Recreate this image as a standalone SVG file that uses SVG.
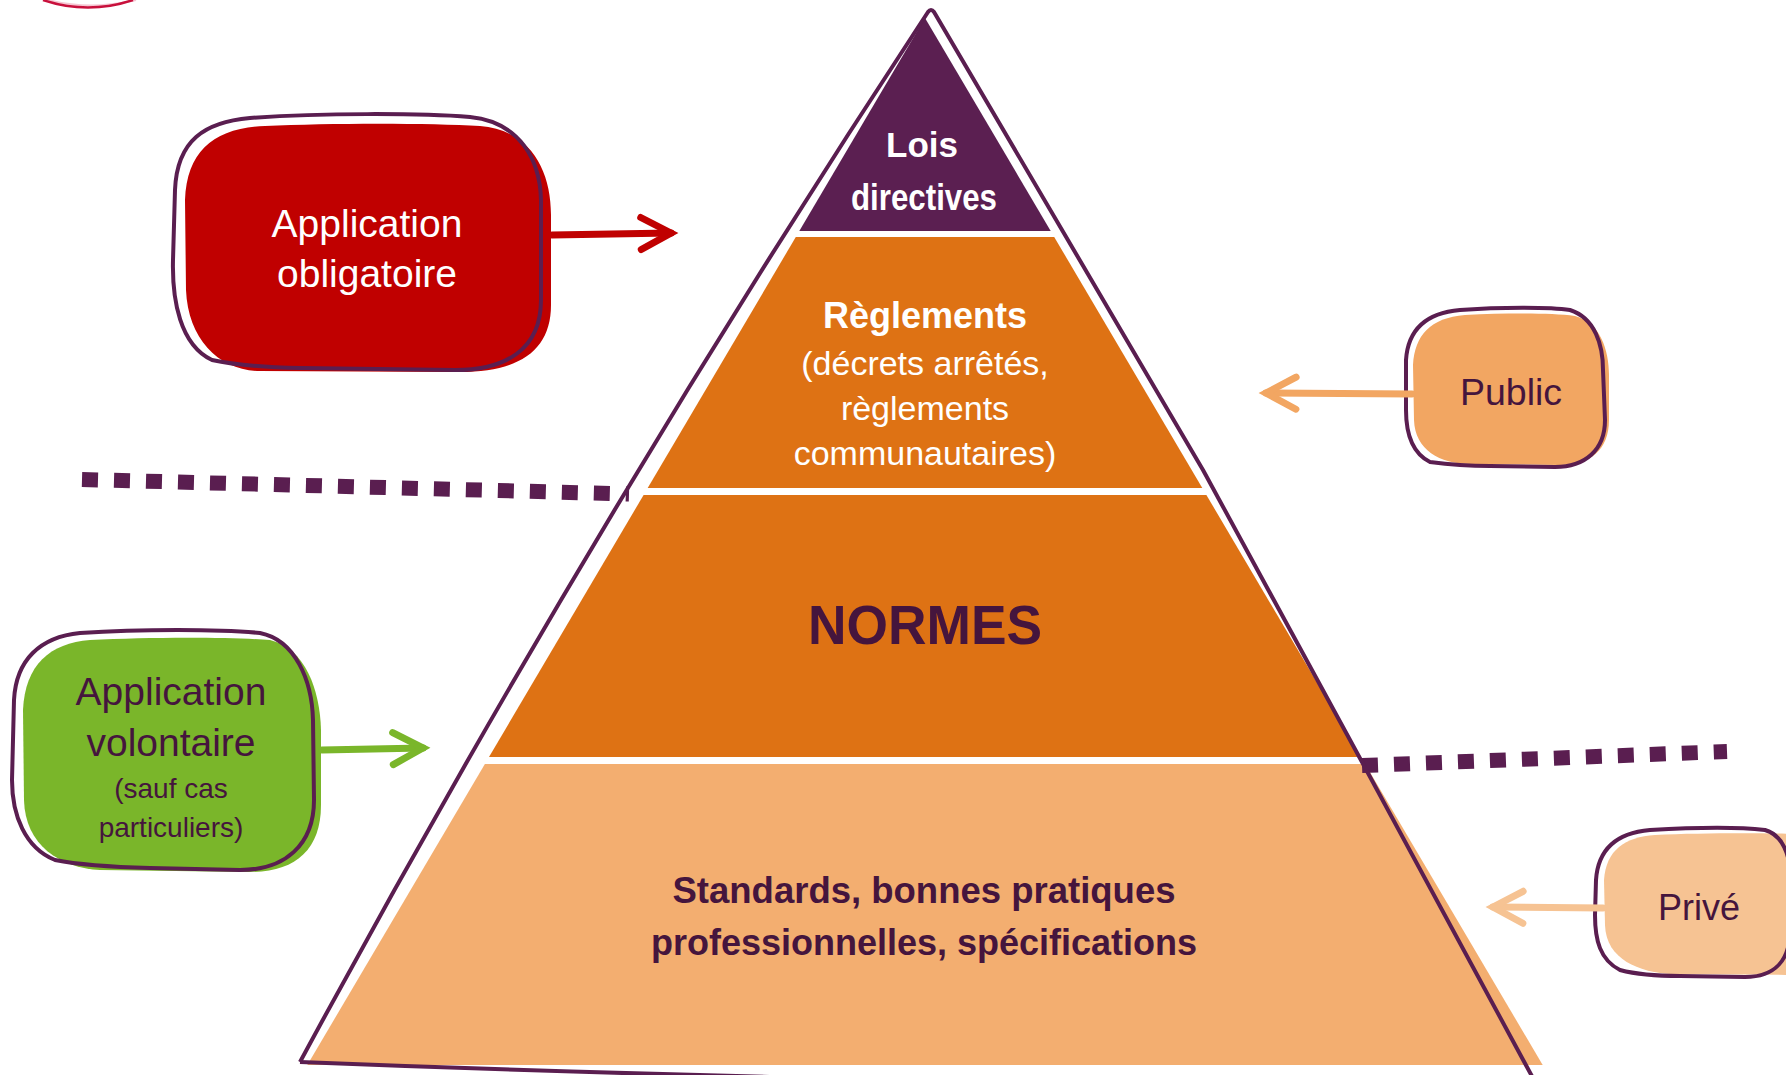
<svg xmlns="http://www.w3.org/2000/svg" width="1786" height="1075" viewBox="0 0 1786 1075">
<defs>
<style>
text{font-family:"Liberation Sans",Arial,sans-serif;text-anchor:middle}
.b{font-weight:bold}
.w{fill:#ffffff}
.d{fill:#45153d}
.ol{fill:none;stroke:#5a1e50;stroke-width:4;stroke-linejoin:round}
.dots{fill:none;stroke:#5a1e50;stroke-width:15;stroke-dasharray:16 16}
.conn{fill:none;stroke-width:7;stroke-linecap:round}
</style>
<marker id="mRed" markerUnits="userSpaceOnUse" markerWidth="44" markerHeight="44" viewBox="0 0 44 44" refX="36" refY="22" orient="auto"><path d="M6,6 L36,22 L6,38" fill="none" stroke="#c00000" stroke-width="7" stroke-linecap="round" stroke-linejoin="miter"/></marker>
<marker id="mGreen" markerUnits="userSpaceOnUse" markerWidth="44" markerHeight="44" viewBox="0 0 44 44" refX="36" refY="22" orient="auto"><path d="M6,6 L36,22 L6,38" fill="none" stroke="#7ab62a" stroke-width="7" stroke-linecap="round"/></marker>
<marker id="mPub" markerUnits="userSpaceOnUse" markerWidth="44" markerHeight="44" viewBox="0 0 44 44" refX="36" refY="22" orient="auto"><path d="M6,6 L36,22 L6,38" fill="none" stroke="#f2a662" stroke-width="7" stroke-linecap="round"/></marker>
<marker id="mPriv" markerUnits="userSpaceOnUse" markerWidth="44" markerHeight="44" viewBox="0 0 44 44" refX="36" refY="22" orient="auto"><path d="M6,6 L36,22 L6,38" fill="none" stroke="#f6c393" stroke-width="7" stroke-linecap="round"/></marker>
</defs>
<rect width="1786" height="1075" fill="#ffffff"/>
<g id="logo-fragment">
<path d="M48,0 Q90,11 136,0" fill="none" stroke="#f5c6d2" stroke-width="2"/>
<path d="M43,0 Q88,15 133,0" fill="none" stroke="#c8103c" stroke-width="2.5"/>
</g>
<g id="pyramid">
<polygon points="925,18 1050.7,231 799.3,231" fill="#5b1f51"/>
<polygon points="795.8,237 1054.2,237 1202.3,488 647.7,488" fill="#de7214"/>
<polygon points="643.6,495 1206.4,495 1361,757 489,757" fill="#de7214"/>
<polygon points="484.9,764 1365.1,764 1542.7,1065 307.3,1065" fill="#f3ae70"/>
</g>
<g id="separators">
<path class="dots" d="M82,479.5 L629,494"/>
<path class="dots" d="M1362,765.5 L1727,751.5"/>
</g>
<g id="pyramid-outline">
<path class="ol" d="M300,1062 Q590,525 928,12 Q931,8 934,12 L1203,470 L1362,762 L1534,1080"/>
<path class="ol" d="M300,1062 Q600,1074 920,1080"/>
</g>
<g id="pyramid-labels">
<text class="b w" x="922" y="157" font-size="35">Lois</text>
<text class="b w" x="924" y="210" font-size="36" textLength="146" lengthAdjust="spacingAndGlyphs">directives</text>
<text class="b w" x="925" y="328" font-size="36">Règlements</text>
<text class="w" x="925" y="375" font-size="34">(décrets arrêtés,</text>
<text class="w" x="925" y="420" font-size="34">règlements</text>
<text class="w" x="925" y="465" font-size="34">communautaires)</text>
<text class="b d" x="925" y="644" font-size="56" textLength="234" lengthAdjust="spacingAndGlyphs">NORMES</text>
<text class="b d" x="924" y="903" font-size="36.5">Standards, bonnes pratiques</text>
<text class="b d" x="924" y="955" font-size="36">professionnelles, spécifications</text>
</g>
<g id="node-obligatoire">
<path fill="#c00000" d="M265,126 C330,123 430,123 480,126 C530,130 551,170 551,215 L551,305 C551,350 520,372 460,372 L260,371 C220,371 188,340 186,290 L185,200 C187,150 215,128 265,126 Z"/>
<path class="ol" d="M250,118 C320,113 420,113 470,117 C520,122 540,160 541,200 L541,300 C541,350 505,370 455,370 L300,368 C260,367 230,364 212,360 C180,345 172,300 173,260 L175,190 C177,140 205,122 250,118 Z"/>
<text class="w" x="367" y="237" font-size="39">Application</text>
<text class="w" x="367" y="287" font-size="39">obligatoire</text>
</g>
<g id="node-volontaire">
<path fill="#7ab62a" d="M90,640 C150,637 230,637 270,640 C305,648 320,690 321,730 L321,805 C321,850 295,872 250,872 L100,870 C60,868 25,845 24,800 L23,710 C25,665 50,643 90,640 Z"/>
<path class="ol" d="M80,633 C140,629 220,629 260,633 C295,640 312,680 313,720 L314,800 C314,845 285,870 240,870 L150,868 C110,867 75,864 55,860 C25,848 12,815 12,780 L14,700 C16,660 40,637 80,633 Z"/>
<text class="d" x="171" y="705" font-size="39">Application</text>
<text class="d" x="171" y="756" font-size="39">volontaire</text>
<text class="d" x="171" y="798" font-size="28">(sauf cas</text>
<text class="d" x="171" y="837" font-size="28">particuliers)</text>
</g>
<g id="node-public">
<path fill="#f2a662" d="M1465,315 C1510,313 1550,313 1575,316 C1600,322 1609,350 1609,375 L1609,420 C1609,450 1590,465 1560,465 L1470,464 C1440,464 1415,450 1414,420 L1413,365 C1415,335 1430,318 1465,315 Z"/>
<path class="ol" d="M1460,310 C1500,307 1550,307 1570,310 C1595,318 1603,345 1603,370 L1605,420 C1605,450 1585,467 1555,467 L1490,466 C1465,466 1445,464 1430,462 C1410,452 1406,430 1406,410 L1406,360 C1408,330 1425,313 1460,310 Z"/>
<text class="d" x="1511" y="405" font-size="37.5">Public</text>
</g>
<g id="node-prive">
<path fill="#f6c393" d="M1655,835 C1700,833 1760,833 1800,834 L1800,975 L1670,974 C1640,972 1606,960 1605,925 L1604,880 C1606,850 1625,837 1655,835 Z"/>
<path class="ol" d="M1650,830 C1700,827 1740,827 1765,830 C1785,836 1791,860 1791,885 L1790,930 C1790,960 1775,977 1745,977 L1680,976 C1655,976 1635,974 1620,970 C1600,960 1595,940 1595,915 L1596,880 C1598,850 1615,833 1650,830 Z"/>
<text class="d" x="1699" y="920" font-size="36">Privé</text>
</g>
<g id="connectors">
<path class="conn" stroke="#c00000" d="M552,235 L671,233" marker-end="url(#mRed)"/>
<path class="conn" stroke="#7ab62a" d="M322,750 L423,748" marker-end="url(#mGreen)"/>
<path class="conn" stroke="#f2a662" d="M1412,394 L1266,393" marker-end="url(#mPub)"/>
<path class="conn" stroke="#f6c393" d="M1603,908 L1493,907" marker-end="url(#mPriv)"/>
</g>
</svg>
